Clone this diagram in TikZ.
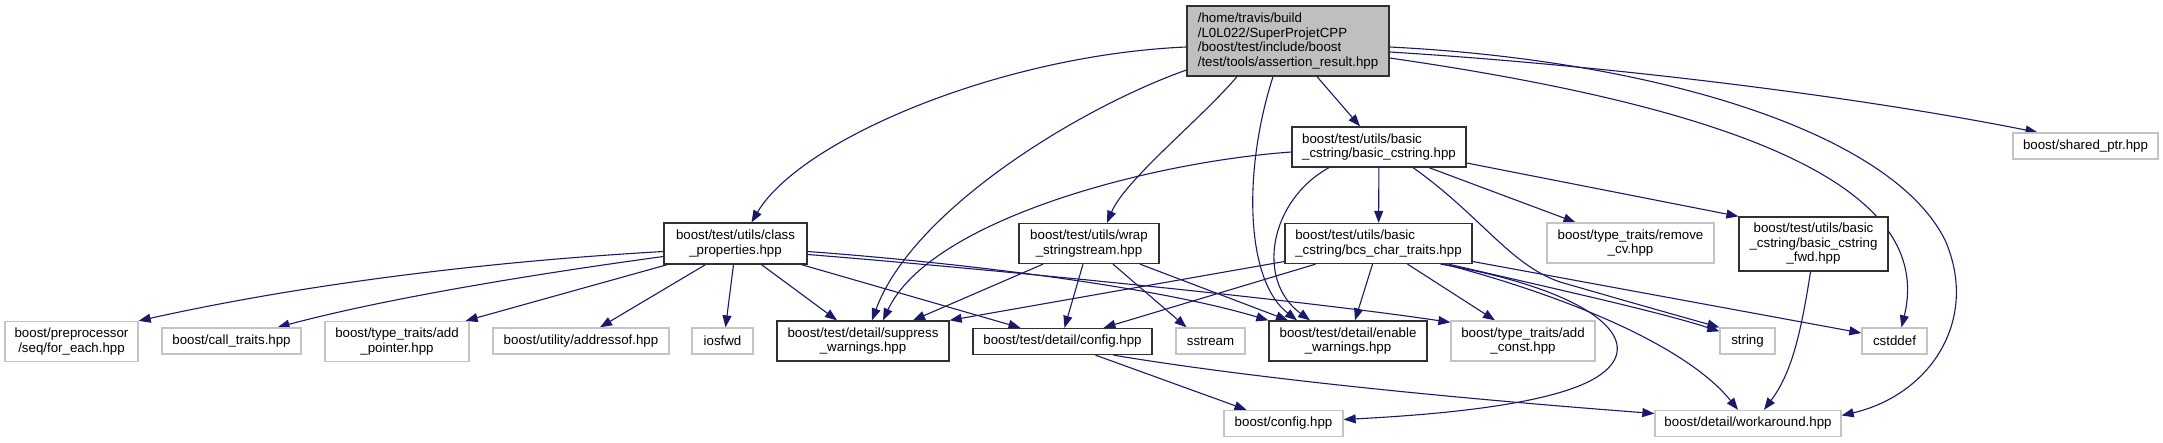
\documentclass[tikz,border=0pt]{standalone}
\usepackage{fontspec}
\setmainfont{Liberation Sans}
\usepackage{tikz}
\usetikzlibrary{arrows.meta, backgrounds}
\definecolor{edgeNavy}{HTML}{191970}
\definecolor{srcGrey}{HTML}{BFBFBF}
\definecolor{extGrey}{HTML}{C4C4C4}
\definecolor{incDark}{HTML}{303030}

\begin{document}
\begin{tikzpicture}[x=1pt, y=-1pt, font=\fontsize{13.3}{14.5}\selectfont,
  srcBox/.style={draw=incDark, fill=srcGrey, line width=1.3pt, inner sep=0pt, align=left},
  incBox/.style={draw=incDark, fill=white, line width=1.3pt, inner sep=0pt, align=center},
  extBox/.style={draw=extGrey, fill=white, line width=1.3pt, inner sep=0pt, align=center},
  inc/.style={draw=edgeNavy, line width=1.1pt, -{Triangle[length=12pt,width=9pt]}}]
  \useasboundingbox (0,0) rectangle (2163,443);

  \node[srcBox, minimum width=202, minimum height=70] (main) at (1288,41) {/home/travis/build\\/L0L022/SuperProjetCPP\\/boost/test/include/boost\\/test/tools/assertion\_result.hpp};
  \node[incBox, align=left, minimum width=174, minimum height=40] (bcstr) at (1379,147) {boost/test/utils/basic\\\_cstring/basic\_cstring.hpp};
  \node[extBox, minimum width=145, minimum height=26] (sharedptr) at (2085.5,146) {boost/shared\_ptr.hpp};

  \node[incBox, minimum width=143, minimum height=41] (classprop) at (735.5,243.5) {boost/test/utils/class\\\_properties.hpp};
  \node[incBox, minimum width=140, minimum height=40] (wrapss) at (1089,243.5) {boost/test/utils/wrap\\\_stringstream.hpp};
  \node[incBox, align=left, minimum width=187, minimum height=40] (bcstraits) at (1378.5,243.5) {boost/test/utils/basic\\\_cstring/bcs\_char\_traits.hpp};
  \node[extBox, minimum width=167, minimum height=40] (removecv) at (1630.5,243) {boost/type\_traits/remove\\\_cv.hpp};
  \node[incBox, minimum width=149, minimum height=54] (bcfwd) at (1813.5,244) {boost/test/utils/basic\\\_cstring/basic\_cstring\\\_fwd.hpp};

  \node[extBox, minimum width=133, minimum height=40] (preproc) at (71.5,341.5) {boost/preprocessor\\/seq/for\_each.hpp};
  \node[extBox, minimum width=139, minimum height=26] (calltraits) at (231.5,341) {boost/call\_traits.hpp};
  \node[extBox, minimum width=144, minimum height=40] (addptr) at (397,341.5) {boost/type\_traits/add\\\_pointer.hpp};
  \node[extBox, minimum width=176, minimum height=26] (addrof) at (581,341) {boost/utility/addressof.hpp};
  \node[extBox, minimum width=61, minimum height=26] (iosfwd) at (722.5,341) {iosfwd};
  \node[incBox, minimum width=172, minimum height=40] (suppress) at (863,341) {boost/test/detail/suppress\\\_warnings.hpp};
  \node[incBox, minimum width=179, minimum height=26] (tconfig) at (1062.5,341.5) {boost/test/detail/config.hpp};
  \node[extBox, minimum width=69, minimum height=26] (sstream) at (1210.5,341) {sstream};
  \node[incBox, minimum width=158, minimum height=40] (enable) at (1348,341) {boost/test/detail/enable\\\_warnings.hpp};
  \node[extBox, minimum width=144, minimum height=40] (addconst) at (1523,341) {boost/type\_traits/add\\\_const.hpp};
  \node[extBox, minimum width=55, minimum height=26] (string) at (1747.5,341) {string};
  \node[extBox, minimum width=65, minimum height=26] (cstddef) at (1894.5,341) {cstddef};

  \node[extBox, minimum width=119, minimum height=26] (bconfig) at (1283.5,423.5) {boost/config.hpp};
  \node[extBox, minimum width=186, minimum height=26] (workaround) at (1748,423.5) {boost/detail/workaround.hpp};

  \begin{scope}[on background layer]
    \fill[white] (0,0) rectangle (2163,443);
    % assertion_result.hpp
    \draw[inc] ([yshift=-6]main.west) .. controls (1000,55) and (800,140) .. ([xshift=16]classprop.north);
    \draw[inc] ([yshift=-29]main.west) .. controls (1077,109) and (912,211) .. ([xshift=9]suppress.north);
    \draw[inc] ([xshift=-51]main.south) .. controls (1200,120) and (1125,180) .. ([xshift=18]wrapss.north);
    \draw[inc] ([xshift=-15]main.south) .. controls (1243,170) and (1245,280) .. ([xshift=-51]enable.north);
    \draw[inc] ([xshift=29]main.south) -- ([xshift=-19]bcstr.north);
    \draw[inc] ([yshift=-11]main.east) .. controls (1600,65) and (1850,95) .. ([xshift=-48]sharedptr.north);
    \draw[inc] ([yshift=-17]main.east) .. controls (1750,110) and (1935,190) .. ([xshift=7]cstddef.north);
    \draw[inc] ([yshift=-6]main.east) .. controls (1650,60) and (1890,130) .. (1945,240) .. controls (1980,320) and (1930,395) .. ([yshift=8]workaround.east);
    % basic_cstring.hpp
    \draw[inc] ([yshift=-5]bcstr.west) .. controls (1150,162) and (930,220) .. ([xshift=20]suppress.north);
    \draw[inc] ([xshift=-50]bcstr.south) .. controls (1270,200) and (1255,280) .. ([xshift=-38]enable.north);
    \draw[inc] (bcstr) -- (bcstraits);
    \draw[inc] ([xshift=50]bcstr.south) -- ([xshift=-55]removecv.north);
    \draw[inc] ([yshift=-16]bcstr.east) -- (bcfwd.north west);
    \draw[inc] ([xshift=34]bcstr.south) .. controls (1480,215) and (1510,265) .. (1560,282) .. controls (1640,305) .. (string.north west);
    % bcs_char_traits.hpp
    \draw[inc] ([yshift=-18]bcstraits.west) -- (suppress.north east);
    \draw[inc] ([xshift=-63]bcstraits.south) -- ([xshift=41]tconfig.north);
    \draw[inc] ([xshift=-6]bcstraits.south) -- ([xshift=7]enable.north);
    \draw[inc] ([xshift=29]bcstraits.south) -- ([xshift=-28]addconst.north);
    \draw[inc] ([xshift=70]bcstraits.south) .. controls (1560,290) and (1660,312) .. ([yshift=-4]string.north west);
    \draw[inc] ([yshift=-18]bcstraits.east) -- ([yshift=8]cstddef.west);
    \draw[inc] ([xshift=66]bcstraits.south) .. controls (1580,300) and (1690,350) .. ([xshift=-10]workaround.north);
    \draw[inc] ([xshift=62]bcstraits.south) .. controls (1590,290) and (1650,340) .. (1600,375) .. controls (1560,403) and (1450,414) .. ([yshift=4]bconfig.east);
    % class_properties.hpp
    \draw[inc] ([yshift=-8]classprop.west) .. controls (480,262) and (300,285) .. (preproc.north east);
    \draw[inc] ([yshift=-13]classprop.west) .. controls (520,276) and (380,300) .. ([xshift=46]calltraits.north);
    \draw[inc] ([xshift=4]classprop.south west) -- ([xshift=-4]addptr.north east);
    \draw[inc] ([xshift=-30]classprop.south) -- ([xshift=19]addrof.north);
    \draw[inc] ([xshift=-2]classprop.south) -- ([xshift=3]iosfwd.north);
    \draw[inc] ([xshift=26]classprop.south) -- ([xshift=-26]suppress.north);
    \draw[inc] ([xshift=66]classprop.south) -- ([xshift=-42]tconfig.north);
    \draw[inc] ([yshift=-8]classprop.east) .. controls (950,262) and (1150,285) .. (enable.north west);
    \draw[inc] ([yshift=-11]classprop.east) .. controls (1000,270) and (1300,300) .. ([yshift=-2]addconst.north west);
    % wrap_stringstream.hpp
    \draw[inc] ([xshift=-46]wrapss.south) -- ([xshift=50]suppress.north);
    \draw[inc] ([xshift=-6]wrapss.south) -- ([xshift=2]tconfig.north);
    \draw[inc] ([xshift=24]wrapss.south) -- ([xshift=-24]sstream.north);
    \draw[inc] ([xshift=51]wrapss.south) -- ([xshift=-60]enable.north);
    % detail/config.hpp and basic_cstring_fwd.hpp
    \draw[inc] ([xshift=33]tconfig.south) -- ([xshift=-37]bconfig.north);
    \draw[inc] ([xshift=51]tconfig.south) .. controls (1250,378) and (1450,398) .. ([yshift=10]workaround.west);
    \draw[inc] ([xshift=-3]bcfwd.south) .. controls (1800,340) and (1790,375) .. ([xshift=16]workaround.north);
  \end{scope}
\end{tikzpicture}
\end{document}
